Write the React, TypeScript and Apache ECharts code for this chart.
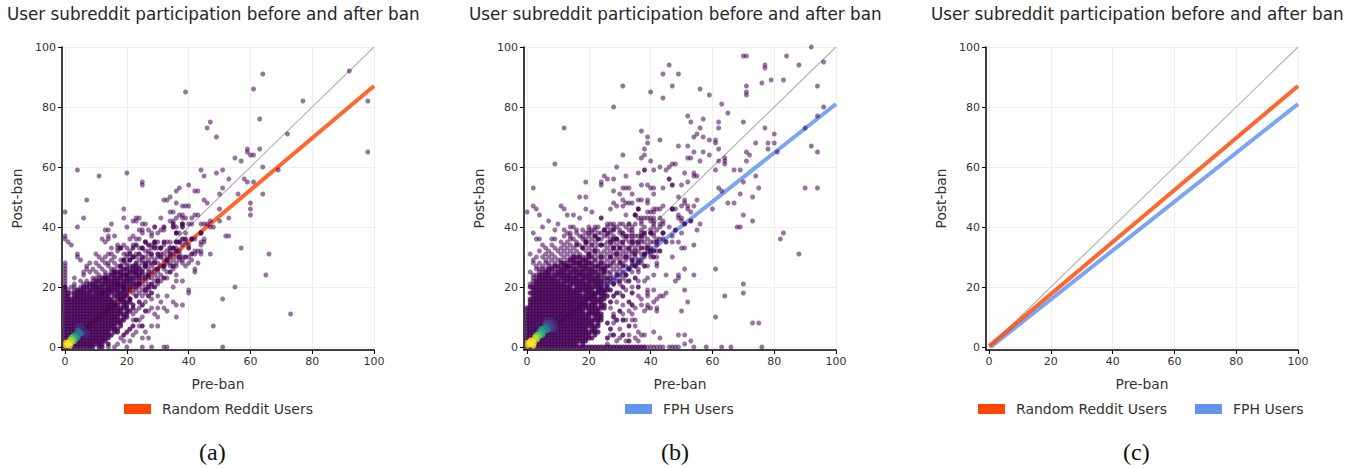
import React, { useEffect, useRef } from "react";
import * as echarts from "echarts";

type Pt = [number, number];
type Row = [number, number[]];
type Run = [number, number, number];

const tickValues = [0, 20, 40, 60, 80, 100];
const titleText = "User subreddit participation before and after ban";
const xName = "Pre-ban";
const yName = "Post-ban";
const randomName = "Random Reddit Users";
const fphName = "FPH Users";
const identityLine: Pt[] = [[0, 0], [100, 100]];
const randomFit: Pt[] = [[0, 0.3], [100, 87]];
const fphFit: Pt[] = [[0.5, 0], [100, 81]];

// Panel (a): outliers
const sparseA: Pt[] = [
  [0,45],[0,37],[1,35],[0,36],[4,59],[11,57],[20,58],[25,55],[25,54],[7,49],[6,43],[19,46],[19,43],[15,41],[4,40],[39,85],[46,73],[47,75],[49,70],
  [44,59],[45,57],[49,58],[51,59],[53,56],[37,53],[36,52],[40,54],[43,52],[34,50],[32,49],[33,49],[36,48],[38,47],[39,47],[40,47],[45,49],[46,48],[50,51],[51,53],
  [34,45],[37,44],[42,44],[50,46],[53,43],[38,43],[39,43],[31,43],[23,43],[22,42],[25,41],[20,40],[13,39],[64,91],[61,86],[92,92],[77,82],[98,82],[98,65],[63,76],[72,71],
  [59,66],[59,65],[60,64],[61,64],[63,66],[55,63],[57,62],[64,60],[69,59],[58,56],[59,55],[61,55],[42,52],[56,51],[64,51],[60,48],[60,46],[60,44],[50,42],[45,41],[47,40],[53,37],
  [66,31],[65,24],[73,11],[55,20],[51,16],[48,7],[57,33],[51,0],[44,41],[48,40],[46,41],[47,42],[52,37],[35,45],[38,44],[36,43],[43,44],[41,43],[41,41],[40,41],[44,38],
  [37,38],[39,38],[36,38],[38,41],[36,40],[24,39],[25,39],[25,38],[27,39],[28,38],[28,37],[30,38],[31,39],[32,39],[35,42],[34,42],[24,43],[23,42],[26,41],[14,39],[14,37],[16,37],[22,37],
  [40,19],[40,18],[38,14],[36,10],[35,15],[36,14],[33,0],[32,0],[28,0],[25,0],[33,12],[32,13],[30,13],[30,17],[33,17],[35,20],[38,22],[36,22],[36,24],[39,27],[42,26],[42,25],[38,28],[40,28],[43,28],[47,31],[45,35],[44,32],
  [27,3],[30,7],[28,7],[24,7],[23,5],[22,4],[20,0],[18,3],[17,1],[16,0],[14,0],[23,12],[24,13],[29,11],[30,10],[25,10],[24,9],[22,11],[22,9],[26,15],[28,16],[24,18],[25,17],
  [26,5],[21,2],[19,2],[25,3],[27,12],[28,13],[31,15],
];
const darkA: Pt[] = [
  [29,40],[32,40],[35,41],[35,40],[38,41],[38,40],[36,38],[26,35],[36,35],[18,33],[44,38],[41,36],[31,30],[26,28],[22,26],[20,24],[17,21],[14,19],[24,21],[27,24],[23,25],[12,18],[19,20],[29,33],[24,31],[33,29],[30,26],[18,27],[21,29],[16,25],[13,23],[28,21],[34,33],
  [22,33],[23,34],[25,33],[27,34],[29,35],[31,33],[32,35],[35,33],[37,35],[38,36],[39,36],[40,33],[21,31],[22,30],[25,30],[28,31],[30,31],[34,31],[36,32],[39,30],[41,31],[19,29],[23,28],[26,27],[29,28],[32,27],[35,27],[37,30],
  [21,16],[22,14],[23,17],[24,15],[25,14],[26,12],[22,7],[21,6],[20,5],[23,9],[25,7],[19,4],[22,13],[27,17],[28,18],[29,20],[27,20],[26,19],[30,22],[32,23],[34,25],
];
const midRowsA: Row[] = [
  [36,[12,14,21,23,24,41,42,45]],
  [35,[13,26,29,30,33,34,36,37,39,44,45]],
  [34,[2,17,19,22,28,29,32,38,40,44]],
  [33,[15,17,18,20,24,25,28,30,31,35,36]],
  [32,[17,21,26,27,33,34,37,42,43,44]],
  [31,[4,10,14,15,19,20,23,27,31,32,35,37,42,44,47]],
  [30,[4,11,13,16,20,22,23,26,28,30,33,34,36,38,40]],
  [29,[5,12,15,18,19,21,24,25,27,29,32,35,37,38,41]],
  [28,[0,8,10,13,14,16,19,20,25,27,28,30,33,34,36]],
  [27,[0,7,11,14,17,18,20,21,24,28,31,32,34,36]],
  [26,[0,7,9,12,15,16,18,21,25,27,29,32,35]],
  [25,[0,6,8,10,13,15,16,19,20,23,24,27,28,30,33]],
  [24,[0,6,11,13,14,17,21,22,25,26,29,31]],
  [23,[0,3,9,10,11,15,19,23,25,26,27,28,30,33]],
  [22,[0,5,7,9,12,18,22,23,24,26,29,31]],
  [21,[0,3,6,7,11,17,21,24,25,27,30]],
  [20,[0,2,3,5,8,13,20,22,23,24,26,28]],
  [19,[1,3,7,14,18,21,23,25,27]],
  [18,[2,9,16,20,22,24,26]],
];
// Panel (a): solid part of the cloud, runs per row [post, from pre, to pre]
const solidA: Run[] = [
  [0,0,9],[0,11,12],[1,0,12],[1,14,14],[2,0,13],[3,0,14],[4,0,15],[5,0,14],[5,16,17],[6,0,17],[7,0,16],[7,18,18],[8,0,18],[9,0,19],
  [10,0,17],[10,19,20],[11,0,20],[12,0,18],[12,20,21],[13,0,20],[14,0,17],[14,19,20],[15,0,16],[15,18,21],[16,0,15],[16,17,19],[16,21,21],
  [17,0,1],[17,3,14],[17,16,20],[18,0,1],[18,3,8],[18,10,15],[18,17,19],[19,0,0],[19,4,6],[19,8,13],[19,15,17],[19,19,20],
  [20,0,0],[20,6,7],[20,9,12],[20,14,19],[20,21,21],[21,8,10],[21,12,16],[21,18,20],[21,22,23],[22,10,11],[22,13,17],[22,19,21],
  [23,12,14],[23,16,18],[23,20,22],[23,24,24],[24,15,16],[24,18,20],[24,23,24],[25,17,18],[25,21,22],[25,25,25],[26,19,20],[26,23,24],[27,22,23],[27,26,26],
];
// Panel (a): density core, lowest level first
const coreA: Pt[][] = [
  [[5,6],[6,5],[4,7],[7,4],[6,6],[5,7],[7,5]],
  [[4.5,5.5],[5.5,4.5],[5,5]],
  [[4.5,5],[5,4.5],[4,5.5]],
  [[4,4.5],[4.5,4]],
  [[3.5,3.5],[3,4],[4,3]],
  [[3,3],[2.5,3.5]],
  [[2.5,2.5],[2,3],[3,2]],
  [[2,2],[1.5,2.2],[2.2,1.5]],
  [[0.8,0.8],[1.3,1],[1,1.3],[0.3,0.5],[1.6,0.4],[0.3,1.5]],
];

// Panel (b): outliers
const sparseB: Pt[] = [
  [70,97],[71,97],[84,97],[92,100],[96,95],[88,94],[77,94],[77,93],[46,94],[44,91],[49,91],[47,87],[40,85],[44,83],[56,86],[59,84],[63,81],[65,78],[71,87],[71,85],[71,84],[76,88],[79,89],[83,89],[94,87],[96,80],[94,77],[90,73],[92,67],[94,65],
  [80,71],[77,73],[74,68],[78,68],[80,68],[78,66],[81,65],[71,65],[72,64],[70,75],[52,77],[53,75],[57,76],[62,75],[62,73],[56,73],[55,71],[54,70],[57,70],[59,69],[61,69],[61,68],[62,66],[49,67],[52,67],[54,65],[57,65],[59,64],[52,63],[53,63],[56,62],[62,62],[64,63],[64,62],[64,61],[61,59],[67,59],[69,59],[74,57],[71,62],
  [43,69],[39,70],[39,68],[37,72],[38,66],[38,64],[37,63],[40,62],[43,60],[41,59],[45,59],[46,60],[47,61],[48,61],[51,58],[54,58],[54,57],[55,57],[50,54],[52,55],[37,54],[39,54],[40,53],[41,53],[44,53],[41,51],[49,50],[62,53],[63,52],[69,51],[73,50],[75,53],[70,55],[90,53],[94,53],[65,48],[67,48],[60,46],[70,44],[73,42],[55,49],[51,49],[51,48],[52,47],[52,46],[53,45],[50,47],[54,47],[48,46],[44,47],[41,46],[40,45],[41,45],[39,49],[39,48],[37,49],[49,44],[49,43],[50,42],[38,43],[39,43],[40,43],[41,43],
  [68,40],[69,40],[83,38],[82,36],[88,31],[56,41],[55,39],[54,34],[50,33],[51,33],[47,30],[51,26],[54,24],[61,26],[45,24],[49,24],[49,23],[48,22],[70,21],[70,18],[64,17],[51,19],[52,15],[50,12],[61,10],[73,8],[75,8],[51,4],[49,4],[41,5],[43,3],[53,2],[51,1],
  [39,0],[40,0],[41,0],[42,0],[43,0],[44,0],[46,0],[47,0],[48,0],[49,0],[54,0],[58,0],[63,0],[66,0],[76,0],
  [45,18],[44,17],[43,17],[42,16],[41,15],[42,13],[42,12],[40,13],[39,14],[39,13],[41,19],[39,19],[39,18],[39,17],[41,24],[39,23],[38,22],[36,22],[42,28],[42,27],[40,30],[42,30],[50,38],[47,37],[47,35],[43,36],[44,36],[49,35],[41,38],[39,36],[37,35],[40,35],[46,40],[44,41],[43,41],[41,41],[50,42],[49,44],[50,43],[47,46],[43,46],[39,45],[37,43],[36,46],[35,44],[37,41],[35,41],[34,37],[36,37],[35,32],[37,31],[38,31],[37,29],[39,27],[34,27],[36,26],[34,25],[36,25],[34,20],[36,17],[37,16],[37,14],[35,13],[38,12],[34,11],[34,9],[35,9],[35,7],[33,4],[37,4],[38,4],[36,5],[35,3],[36,2],
  [31,87],[28,80],[12,73],[37,72],[39,70],[38,66],[9,61],[2,53],[2,47],[3,46],[11,47],[17,50],[19,50],[12,46],[13,44],[19,46],[21,45],[19,55],[24,55],[24,54],[25,57],[26,56],[28,56],[32,57],[29,60],[36,58],[31,64],[43,69],[28,52],[30,51],[31,53],[32,53],[33,53],[34,51],[31,49],[32,48],[33,48],[34,48],[36,49],[37,49],[28,48],[29,47],[31,47],[27,46],[32,44],[39,45],[41,45],[42,46],[36,43],[37,42],[38,43],[40,42],[41,42],[43,43],[44,42],[26,41],[27,41],[28,41],[30,41],[31,41],[34,40],[23,40],[22,39],[20,39],[20,38],[12,37],[14,38],[14,36],[18,37],[19,36],[2,38],[3,36],[4,36],[1,31],[1,25],[0,45],[4,44],[7,42],[10,41],[15,44],[17,43],
  [32,9],[33,12],[31,14],[29,2],[27,4],[30,6],[32,2],[28,8],[31,11],[29,15],[30,18],[32,19],[28,11],[27,13],[30,3],[26,1],
];
const darkB: Pt[] = [
  [38,59],[46,56],[47,54],[47,46],[48,39],[45,35],[38,38],[51,41],[53,42],[41,32],[40,32],[24,43],[36,46],[35,44],[38,31],[26,38],[29,36],[31,35],[33,33],[21,34],[24,30],[36,35],[30,28],[27,30],[28,33],[34,29],[38,27],[25,26],[20,31],[26,27],[23,36],[18,33],[15,30],[31,27],[27,35],[32,37],[22,32],[37,33],[29,31],[25,39],[28,36],[35,31],[17,28],[13,27],
  [26,3],[27,6],[28,4],[29,9],[30,12],[31,9],[27,15],[28,17],[29,18],[31,17],[33,15],[34,14],[27,19],[28,21],[30,22],[32,24],[33,22],[35,23],[26,8],[28,10],[31,4],[33,7],[33,2],[34,18],[36,20],[31,20],[29,24],[33,26],[36,28],[32,30],[35,27],[30,33],[34,35],[37,37],[39,33],[40,38],[31,38],[33,41],[28,39],[24,34],[22,37],[19,35],[16,34],[42,35],[44,38],[41,30],[43,32],
];
const midRowsB: Row[] = [
  [40,[5,14,15,20,22,23,26,28,29,32,38,41,43]],
  [39,[9,12,16,18,21,25,27,30,33,34,37,40,42]],
  [38,[2,13,16,19,21,23,24,27,30,34,37,40,44]],
  [37,[14,17,20,22,25,26,28,31,33,35,38,41]],
  [36,[3,4,8,9,15,18,21,23,24,27,29,32,34,37,42]],
  [35,[11,13,16,19,20,22,26,28,30,33,35,38,41]],
  [34,[5,8,12,14,17,19,23,24,25,27,29,31,34,36,39,42]],
  [33,[6,9,11,13,15,18,20,22,26,28,30,32,35,38,40]],
  [32,[4,7,10,12,14,16,19,21,23,25,27,29,31,33,34,36,39,42]],
  [31,[1,6,8,11,13,15,17,20,22,24,26,28,30,32,34,37,40]],
  [30,[3,5,7,9,12,14,18,19,23,25,27,29,31,33,35,38]],
  [29,[2,6,8,10,11,13,16,17,20,24,26,28,30,32,34,36]],
  [28,[2,4,6,7,9,13,14,17,18,23,25,27,28,31,34,37]],
  [27,[3,5,7,8,11,15,16,20,21,24,25,27,29,32,35]],
  [26,[3,4,5,6,9,10,14,17,22,23,25,28,30,33]],
  [25,[1,4,5,8,9,13,19,23,24,26,27,29,31]],
  [24,[2,3,8,15,22,24,25,27,30,32]],
  [23,[2,3,10,17,24,25,27,28,31]],
  [22,[2,11,19,25,26,27,29,32]],
  [21,[1,2,13,21,25,26,28,30]],
];
// Panel (b): solid part of the cloud, runs per row [post, from pre, to pre]
const solidB: Run[] = [
  [0,0,38],[1,0,16],[1,18,18],[2,0,19],[3,0,21],[4,0,20],[4,22,22],[5,0,23],[6,0,19],[6,21,22],[7,0,23],[8,0,21],[8,23,23],[9,0,24],
  [10,0,20],[10,22,24],[11,0,24],[12,0,18],[12,20,23],[13,0,25],[14,1,22],[14,24,25],[15,1,19],[15,21,24],[16,1,25],[17,2,22],[17,24,26],
  [18,1,17],[18,19,25],[19,2,21],[19,23,26],[20,1,14],[20,16,24],[20,26,26],[21,3,12],[21,14,20],[21,22,24],[22,3,10],[22,12,18],[22,20,24],
  [23,4,9],[23,11,16],[23,18,23],[23,26,26],[24,4,7],[24,9,14],[24,16,21],[24,23,23],[25,6,7],[25,10,12],[25,14,18],[25,20,22],[25,25,25],
  [26,7,8],[26,11,13],[26,15,16],[26,18,21],[26,24,24],[27,9,10],[27,12,14],[27,17,19],[27,22,23],[28,11,12],[28,15,16],[28,19,21],[28,24,24],
  [29,14,15],[29,18,19],[29,22,22],[30,16,17],[30,20,21],
];
const coreB: Pt[][] = [
  [[8,9],[9,8],[7,9],[9,7],[8,8],[6,9],[9,6]],
  [[7,8],[8,7],[7,7],[6,8],[8,6]],
  [[6,7],[7,6],[6.5,6.5]],
  [[5.5,6.5],[6.5,5.5],[6,6]],
  [[5,5.5],[5.5,5],[4.5,6]],
  [[4.5,4.5],[4,5],[5,4]],
  [[3.5,4],[4,3.5],[3,4]],
  [[3,3],[2.5,3.2],[3.2,2.5]],
  [[1,1],[0.3,0.5],[2,2],[1.5,1],[1,1.5],[2.2,1.2],[1.2,2.2],[0.3,1.5],[2,0.4]],
];

const viridis = ["#482878", "#3e4989", "#31688e", "#26828e", "#1f9e89", "#35b779", "#6ece58", "#b5de2b", "#fde725"];
const purple = "#440154";

function rowsToPoints(rows: Row[]): Pt[] {
  const out: Pt[] = [];
  rows.forEach(([y, xs]) => xs.forEach((x) => out.push([x, y])));
  return out;
}
function runsToPoints(runs: Run[]): Pt[] {
  const out: Pt[] = [];
  runs.forEach(([y, a, b]) => { for (let x = a; x <= b; x++) out.push([x, y]); });
  return out;
}
function unique(pts: Pt[]): Pt[] {
  const seen = new Set<string>();
  return pts.filter((p) => { const k = p.join(","); if (seen.has(k)) return false; seen.add(k); return true; });
}

const panelLefts = [62, 524, 986];
const titleFont = { fontFamily: "DejaVu Sans", fontSize: 16.8, fontWeight: "normal" as const, color: "#262626" };

function buildOption() {
  const grids = panelLefts.map((left) => ({ left, top: 47, width: 312, height: 303 }));
  const axisCommon = {
    min: -1, max: 100, type: "value" as const,
    axisLine: { show: true, onZero: false, lineStyle: { color: "#000", width: 1.5 } },
    axisTick: { show: true, length: 4, customValues: tickValues, lineStyle: { color: "#000", width: 1 } },
    axisLabel: { customValues: tickValues, color: "#333", fontFamily: "DejaVu Sans", fontSize: 11, margin: 6 },
    splitLine: { show: true, lineStyle: { color: "#eeeeee", width: 1 } },
    nameTextStyle: { color: "#333", fontFamily: "DejaVu Sans", fontSize: 13.8 },
    nameLocation: "middle" as const,
  };
  const xAxis = panelLefts.map((_, i) => ({ ...axisCommon, gridIndex: i, name: xName, nameGap: 27 }));
  const yAxis = panelLefts.map((_, i) => ({ ...axisCommon, gridIndex: i, name: yName, nameGap: 38 }));

  const line = (i: number, name: string, data: Pt[], color: string, width: number, z: number) => ({
    type: "line" as const, name, xAxisIndex: i, yAxisIndex: i, data, showSymbol: false, symbol: "none", z,
    lineStyle: { color, width }, itemStyle: { color }, silent: true, animation: false,
  });
  const dots = (i: number, data: Pt[], color: string, opacity: number, size: number, z: number) => ({
    type: "scatter" as const, xAxisIndex: i, yAxisIndex: i, data, symbolSize: size, z, silent: true,
    itemStyle: { color, opacity }, animation: false,
  });
  const orange = "rgba(255,69,0,0.82)";
  const blue = "rgba(100,149,237,0.85)";
  const coreSize = 6;
  const series: any[] = [
    line(0, "identityA", identityLine, "#b5b5b5", 1.2, 2),
    line(0, randomName, randomFit, orange, 4, 2),
    dots(0, unique([...sparseA, ...rowsToPoints(midRowsA)]), purple, 0.55, 5, 3),
    dots(0, darkA, purple, 0.8, 5, 3),
    dots(0, runsToPoints(solidA), purple, 0.8, 5, 3),
    ...coreA.map((pts, k) => dots(0, pts, viridis[k], 0.75, coreSize, 4 + k)),
    line(1, "identityB", identityLine, "#b5b5b5", 1.2, 2),
    line(1, fphName, fphFit, blue, 4, 2),
    dots(1, unique([...sparseB, ...rowsToPoints(midRowsB)]), purple, 0.55, 5, 3),
    dots(1, darkB, purple, 0.8, 5, 3),
    dots(1, runsToPoints(solidB), purple, 0.8, 5, 3),
    ...coreB.map((pts, k) => dots(1, pts, viridis[k], 0.75, coreSize, 4 + k)),
    line(2, "identityC", identityLine, "#b5b5b5", 1.2, 2),
    line(2, fphName, fphFit, blue, 4, 2),
    line(2, randomName, randomFit, orange, 4, 3),
  ];
  const legendBase = {
    icon: "rect", itemWidth: 27, itemHeight: 10, top: 402,
    textStyle: { fontFamily: "DejaVu Sans", fontSize: 14, color: "#333", padding: [0, 0, 0, 6] },
    selectedMode: false, padding: 0, itemGap: 28,
  };
  return {
    animation: false,
    backgroundColor: "#fff",
    title: panelLefts.map((_, i) => ({ text: titleText, left: [7, 469, 931][i], top: 5, padding: 0, textStyle: titleFont })),
    grid: grids,
    xAxis,
    yAxis,
    series,
    legend: [
      { ...legendBase, left: 124, data: [{ name: randomName, itemStyle: { color: "#ff4500" } }] },
      { ...legendBase, left: 625, data: [{ name: fphName, itemStyle: { color: "#6495ed" } }] },
      { ...legendBase, left: 978, data: [
        { name: randomName, itemStyle: { color: "#ff4500" } },
        { name: fphName, itemStyle: { color: "#6495ed" } },
      ] },
    ],
    graphic: ["(a)", "(b)", "(c)"].map((text, i) => ({
      type: "text", left: [199, 661, 1123][i], top: 440,
      style: { text, fontFamily: "Liberation Serif", fontSize: 24, fill: "#111" },
    })),
  };
}

export default function App() {
  const ref = useRef<HTMLDivElement>(null);
  useEffect(() => {
    const chart = echarts.init(ref.current!, undefined, { renderer: "svg" });
    chart.setOption(buildOption() as any);
    return () => chart.dispose();
  }, []);
  return <div ref={ref} style={{ position: "absolute", left: 0, top: 0, width: 1356, height: 468 }} />;
}
